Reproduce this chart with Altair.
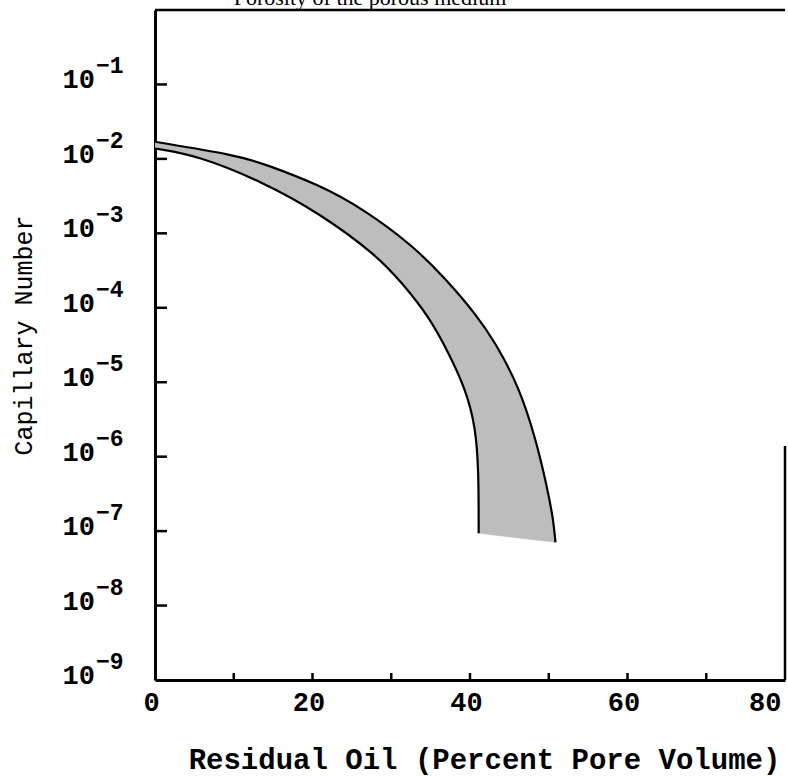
import altair as alt
import pandas as pd

# Curves.
# x = residual oil (% pore volume); exp = base-10 exponent of the capillary number
outer_x = [0.0, 10.3, 13.7, 20.9, 26.4, 32.7, 36.9, 40.7, 43.3, 46.2,
           48.3, 49.8, 50.6, 50.85]
outer_exp = [-1.77, -1.95, -2.06, -2.35, -2.67, -3.16, -3.61, -4.08, -4.48, -5.06,
             -5.74, -6.41, -6.86, -7.15]
inner_x = [0.0, 5.3, 13.7, 20.9, 28.1, 31.4, 34.8, 37.3, 39.5, 40.7,
           41.1, 41.1]
inner_exp = [-1.86, -1.95, -2.31, -2.73, -3.29, -3.67, -4.12, -4.61, -5.11, -5.60,
             -6.18, -7.03]

x_label_values = [0, 20, 40, 60, 80]
x_tick_values = [10, 20, 30, 40, 50, 60, 70]
y_label_exps = [-1, -2, -3, -4, -5, -6, -7, -8, -9]
y_tick_exps = [-1, -2, -3, -4, -5, -6, -7, -8]

top_text = "Porosity of the porous medium"
x_title = "Residual Oil (Percent Pore Volume)"
y_title = "Capillary Number"

W, H = 630, 670
MONO = "Liberation Mono"

outer_df = pd.DataFrame({
    "idx": list(range(len(outer_x))),
    "x": outer_x,
    "cap": [10.0 ** e for e in outer_exp],
})
inner_df = pd.DataFrame({
    "idx": list(range(len(inner_x))),
    "x": inner_x,
    "cap": [10.0 ** e for e in inner_exp],
})
# closed outline of the band: down the outer curve, straight across the
# bottom (corner points repeated so the smooth curve passes through them),
# then back up the inner curve
outer_part = pd.concat([outer_df, outer_df.iloc[[-1, -1]]], ignore_index=True)
inner_rev = inner_df.iloc[::-1].reset_index(drop=True)
inner_part = pd.concat([inner_rev.iloc[[0, 0]], inner_rev], ignore_index=True)
band_df = pd.concat([outer_part, inner_part], ignore_index=True)
band_df["idx"] = list(range(len(band_df)))

ylab_df = pd.DataFrame({
    "cap": [10.0 ** e for e in y_label_exps],
    "sup": ["\u2212" + str(-e) for e in y_label_exps],
})
ytick_df = pd.DataFrame({"cap": [10.0 ** e for e in y_tick_exps]})
xtick_df = pd.DataFrame({"v": x_tick_values})
dummy = pd.DataFrame({"a": [0]})

xs = alt.Scale(domain=[0, 80], nice=False, zero=False)
ys = alt.Scale(type="log", domain=[1e-9, 1], nice=False)

x_axis = alt.Axis(
    values=x_label_values, ticks=False, grid=False, domain=True,
    domainColor="black", domainWidth=3,
    labelFont=MONO, labelFontSize=27, labelFontWeight="bold", labelColor="black",
    labelPadding=9, labelOffset=-4, labelFlush=False,
    labelAlign=alt.ExprRef(expr="datum.value == 80 ? 'right' : 'center'"),
    title=x_title, titleFont=MONO, titleFontSize=29, titleFontWeight="bold",
    titleColor="black", titleX=329, titleY=88, titleAlign="center",
    titleBaseline="alphabetic",
)
y_axis = alt.Axis(
    labels=False, ticks=False, grid=False, domain=True,
    domainColor="black", domainWidth=3,
    title=y_title, titleFont=MONO, titleFontSize=25, titleFontWeight="normal",
    titleColor="black", titleAngle=270, titleX=-132, titleY=325,
    titleAlign="center", titleBaseline="middle",
)

band = alt.Chart(band_df).mark_line(
    fill="#bdbdbd", stroke="#bdbdbd", strokeWidth=0.5, interpolate="basis",
).encode(
    y=alt.Y("cap:Q", scale=ys, axis=y_axis),
    x=alt.X("x:Q", scale=xs, axis=x_axis),
    order="idx:Q",
)
outer_line = alt.Chart(outer_df).mark_line(
    color="black", strokeWidth=2.2, interpolate="basis",
).encode(
    y=alt.Y("cap:Q", scale=ys, axis=y_axis),
    x=alt.X("x:Q", scale=xs, axis=x_axis),
    order="idx:Q",
)
inner_line = alt.Chart(inner_df).mark_line(
    color="black", strokeWidth=2.2, interpolate="basis",
).encode(
    y=alt.Y("cap:Q", scale=ys, axis=y_axis),
    x=alt.X("x:Q", scale=xs, axis=x_axis),
    order="idx:Q",
)
y_ticks = alt.Chart(ytick_df).mark_rule(color="black", strokeWidth=2.5).encode(
    y=alt.Y("cap:Q", scale=ys, axis=y_axis),
    x=alt.value(0), x2=alt.value(12),
)
x_ticks = alt.Chart(xtick_df).mark_rule(color="black", strokeWidth=2.5).encode(
    x=alt.X("v:Q", scale=xs, axis=x_axis),
    y=alt.value(H), y2=alt.value(H - 7),
)
ylab_base = alt.Chart(ylab_df).mark_text(
    font=MONO, fontSize=27, fontWeight="bold", align="right", baseline="alphabetic",
    dy=4, color="black",
).encode(
    y=alt.Y("cap:Q", scale=ys, axis=y_axis),
    x=alt.value(-60),
    text=alt.value("10"),
)
ylab_sup = alt.Chart(ylab_df).mark_text(
    font=MONO, fontSize=23, fontWeight="bold", align="left", baseline="alphabetic",
    dy=-11, color="black",
).encode(
    y=alt.Y("cap:Q", scale=ys, axis=y_axis),
    x=alt.value(-59),
    text="sup:N",
)
top_rule = alt.Chart(dummy).mark_rule(color="black", strokeWidth=2.5).encode(
    x=alt.value(0), x2=alt.value(W), y=alt.value(0),
)
right_rule = alt.Chart(dummy).mark_rule(color="black", strokeWidth=2.5).encode(
    x=alt.value(W), y=alt.value(436), y2=alt.value(H),
)
top_label = alt.Chart(dummy).mark_text(
    font="Liberation Serif", fontSize=22, align="center", baseline="alphabetic",
    color="black",
).encode(
    x=alt.value(215), y=alt.value(-5), text=alt.value(top_text),
)

chart = alt.layer(
    band, outer_line, inner_line, y_ticks, x_ticks, ylab_base, ylab_sup,
    top_rule, right_rule, top_label,
).properties(
    width=W, height=H,
    padding={"left": 155, "top": 10, "right": 3, "bottom": 96},
    autosize=alt.AutoSizeParams(type="none"),
    background="white",
).configure_view(stroke=None)

chart.save("out.html", embed_options={"renderer": "svg", "actions": False})
